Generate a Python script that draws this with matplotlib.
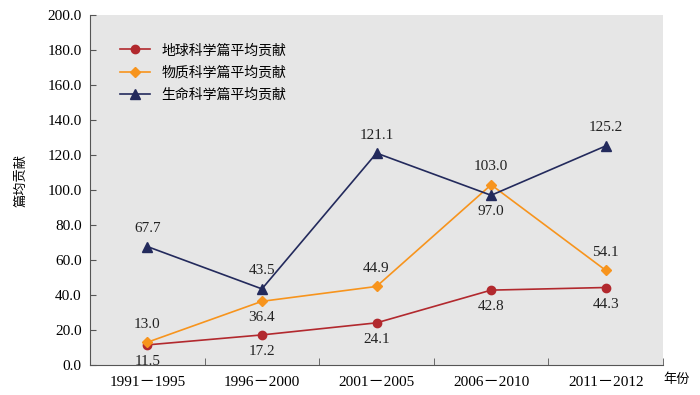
import matplotlib
matplotlib.use("Agg")
import matplotlib.pyplot as plt
import numpy as np

categories = ["1991－1995", "1996－2000", "2001－2005", "2006－2010", "2011－2012"]
earth = [11.5, 17.2, 24.1, 42.8, 44.3]
material = [13.0, 36.4, 44.9, 103.0, 54.1]
life = [67.7, 43.5, 121.1, 97.0, 125.2]
names = ["地球科学篇平均贡献", "物质科学篇平均贡献", "生命科学篇平均贡献"]
earth_pos = ["below"] * 5
material_pos = ["above", "below", "above", "above", "above"]
life_pos = ["above", "above", "above", "below", "above"]

serif = ["Liberation Serif", "Noto Sans CJK SC"]
cjk = ["Noto Sans CJK SC", "DejaVu Sans"]
plt.rcParams["font.family"] = serif

fig = plt.figure(figsize=(7, 3.95), dpi=100)
ax = fig.add_axes([0.1286, 0.0759, 0.8186, 0.886])
ax.set_facecolor("#e6e6e6")

x = np.arange(len(categories))
cols = ["#b2292e", "#f7941d", "#232a5c"]
markers = ["o", "D", "^"]
msz = [6, 5, 7]
series = [earth, material, life]
poss = [earth_pos, material_pos, life_pos]
for s, c, m, ms, n in zip(series, cols, markers, msz, names):
    ax.plot(x, s, color=c, marker=m, markersize=ms, lw=1.2, label=n, zorder=3)
for s, p in zip(series, poss):
    for xi, v, pp in zip(x, s, p):
        dy = 13 if pp == "above" else -12
        ax.annotate(f"{v:.1f}", (xi, v), xytext=(0, dy), textcoords="offset points",
                    ha="center", va="center", fontsize=11, color="#222222")

ax.set_xlim(-0.5, 4.5)
ax.set_ylim(0, 200)
ax.set_yticks(np.arange(0, 201, 20))
ax.set_yticklabels([f"{v:.1f}" for v in np.arange(0, 201, 20)], fontsize=11)
ax.set_xticks(x)
ax.set_xticklabels(categories, fontsize=11)
ax.tick_params(axis="x", length=0, pad=8)
ax.set_xticks(np.arange(0.5, 4.6, 1), minor=True)
ax.tick_params(axis="x", which="minor", direction="in", length=5, color="#555555")
ax.tick_params(axis="y", direction="in", length=4, color="#555555", pad=6)
for sp in ["top", "right"]:
    ax.spines[sp].set_visible(False)
for sp in ["left", "bottom"]:
    ax.spines[sp].set_color("#555555")

fig.text(0.03, 0.544, "篇均贡献", rotation=90, fontsize=9.5, family=cjk, va="center", ha="center")
fig.text(0.948, 0.038, "年份", fontsize=9.5, family=cjk, va="center", ha="left")

leg = ax.legend(loc="upper left", bbox_to_anchor=(0.03, 0.955), frameon=False,
                prop={"family": cjk, "size": 10}, handlelength=2.2, labelspacing=0.6)
fig.savefig("out.png", dpi=100)
